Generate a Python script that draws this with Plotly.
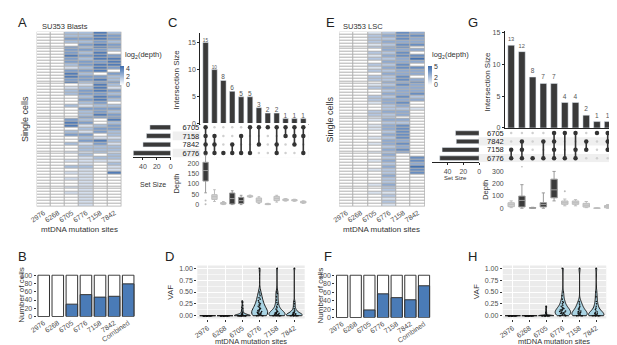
import plotly.graph_objects as go

# ---------------- DATA ----------------
sites6 = ["2976", "6268", "6705", "6776", "7158", "7842"]
sites7 = ["2976", "6268", "6705", "6776", "7158", "7842", "Combined"]
cell_rows = list(range(1, 61))

# Panel A: log2(depth) per cell (rows top->bottom), one list per site
A_2976 = [0]*60
A_6268 = [0]*60
A_6705 = [2,2,3,2,0,3,3,3,4,3, 3,2,1,3,4,4,3,4,0,1, 2,2,0,0,0,2,0,0,0,0,
          3,4,4,0,2,3,0,0,2,0, 0,1,0,0,1,0,2,0,1,0, 1,0,0,1,0,1,0,0,0,0]
A_6776 = [2,2,3,2,3,2,3,2,3,2, 3,3,2,3,2,3,3,2,1,2, 3,3,2,3,2,1,3,2,2,3,
          2,3,1,2,1,3,2,3,1,2, 2,1,2,1,1,1,2,1,1,1, 1,1,1,1,1,1,1,1,1,1]
A_7158 = [4,4,4,3,4,4,3,4,4,4, 3,4,4,4,0,3,4,3,4,4, 4,3,4,4,3,2,3,3,4,3,
          0,0,2,3,3,0,1,4,3,2, 2,2,0,2,1,0,0,0,0,0, 0,0,0,0,0,0,0,0,0,0]
A_7842 = [2,3,3,2,3,3,2,0,3,4, 4,4,3,0,3,2,2,3,2,1, 3,2,3,2,0,2,3,2,3,3,
          4,2,3,3,2,2,1,2,1,2, 2,1,2,2,1,2,1,1,4,0, 0,0,0,0,0,0,0,0,0,0]

# Panel E
E_2976 = [0]*60
E_6268 = [0]*60
E_6705 = [1,2,2,2,1,2,0,2,1,2, 0,2,1,2,0,2,2,0,1,2, 0,0,2,2,1,0,0,2,2,1,
          1,0,1,1,0,0,1,0,1,0, 0,1,0,0,1,0,0,1,0,0, 0,0,1,0,0,1,0,0,0,0]
E_6776 = [2,3,2,3,2,3,3,2,3,2, 3,2,3,2,3,2,2,3,2,3, 2,3,2,3,3,2,2,3,2,2,
          3,2,3,3,2,3,2,3,3,2, 3,2,3,2,3,2,3,2,2,3, 2,2,3,2,2,1,2,1,2,1]
E_7158 = [4,4,4,3,4,4,3,4,4,3, 3,4,4,3,3,4,4,3,4,3, 3,3,4,3,4,3,2,3,3,0,
          3,2,4,4,4,4,4,3,4,3, 4,3,0,0,0,0,0,0,0,0, 0,0,0,0,0,0,0,0,0,0]
E_7842 = [3,4,3,3,4,0,3,0,4,5, 3,0,4,3,3,0,3,4,3,3, 3,4,2,3,0,0,1,0,0,0,
          0,0,0,0,0,0,0,0,0,0, 0,0,0,4,4,3,5,4,4,0, 0,0,0,0,0,0,0,0,0,0]

# Panels B / F: number of cells carrying each mutation (out of 100)
cells_total = [100, 100, 100, 100, 100, 100, 100]
B_mut = [0, 0, 30, 53, 47, 49, 79]
F_mut = [0, 0, 18, 56, 47, 42, 75]

# Panel C (UpSet, Blasts)
C_sets = ["6705", "7158", "7842", "6776"]
C_setsize = [30, 35, 40, 54]
C_inter = [15, 10, 8, 6, 5, 5, 3, 2, 2, 1, 1, 1]
C_members = [[0,1,2,3],[1,2,3],[3],[2,3],[1,3],[0,3],[0,2],[0],[0,2,3],[0,1],[0,1,2],[0,1,3]]
C_q1 = [114, 25, 2, 3, 5, 37, 11, 0, 19, 19, 18, 8]
C_med = [165, 38, 6, 29, 19, 40, 21, 2, 30, 23, 21, 12]
C_q3 = [205, 48, 10, 56, 35, 43, 32, 4, 40, 27, 24, 16]
C_lo = [57, 15, 0, 0, 0, 35, 5, 0, 12, 17, 16, 6]
C_hi = [240, 72, 15, 67, 45, 46, 38, 6, 45, 29, 26, 18]
C_dark = [1, 0, 0, 1, 1, 0, 0, 0, 0, 0, 0, 0]
C_out_x = [0, 0]
C_out_y = [20, 2]

# Panel G (UpSet, LSC)
G_sets = ["6705", "7842", "7158", "6776"]
G_setsize = [30, 29, 47, 50]
G_inter = [13, 12, 8, 7, 7, 4, 4, 2, 1, 1]
G_members = [[2,3],[1,2,3],[3],[1,3],[0,1,2,3],[0,3],[0,2,3],[1,2],[0],[0,1,2]]
G_q1 = [13, 11, 1, 11, 85, 32, 32, 10, 0, 4]
G_med = [32, 64, 3, 30, 150, 45, 45, 25, 1, 12]
G_q3 = [45, 99, 5, 45, 237, 59, 59, 40, 2, 22]
G_lo = [5, 0, 0, 0, 60, 20, 20, 5, 0, 0]
G_hi = [60, 192, 8, 125, 300, 75, 70, 55, 3, 30]
G_dark = [0, 1, 1, 1, 1, 0, 0, 0, 0, 0]
G_out_x = [1, 5]
G_out_y = [339, 139]

# Panels D / H: VAF per cell
D_vaf = {
    "2976": [0,0,0,0,0,0,0,0,0,0,0,0,0,0,0,0,0,0,0,0,0,0,0,0,0,0,0,0,0,0],
    "6268": [0,0,0,0,0,0,0,0,0,0,0,0,0,0,0,0,0,0,0,0,0,0,0,0,0,0,0,0,0,0],
    "6705": [0,0,0,0,0,0,0,0,0,0,0,0,0,0,0,0,0,0,0,0,0.01,0.02,0.02,0.03,0.04,0.05,0.06,0.08,0.1,0.12,0.15,0.18,0.22,0.28,0.31],
    "6776": [0,0,0,0,0,0.01,0.02,0.02,0.03,0.04,0.05,0.05,0.06,0.07,0.08,0.09,0.1,0.11,0.12,0.13,0.15,0.16,0.18,0.2,0.21,0.23,0.25,0.27,0.29,0.32,0.35,0.38,0.42,0.46,0.5,1.0],
    "7158": [0,0,0,0,0,0,0,0,0.01,0.01,0.02,0.02,0.03,0.03,0.04,0.05,0.05,0.06,0.07,0.08,0.09,0.1,0.12,0.14,0.17,0.2,0.24,0.28,0.33,0.4,0.47,0.5,1.0],
    "7842": [0,0,0,0,0,0,0,0,0,0.01,0.01,0.02,0.02,0.03,0.03,0.04,0.05,0.06,0.07,0.08,0.1,0.12,0.15,0.2,0.25,0.3,1.0],
}
H_vaf = {
    "2976": [0,0,0,0,0,0,0,0,0,0,0,0,0,0,0,0,0,0,0,0,0,0,0,0,0,0,0,0,0,0],
    "6268": [0,0,0,0,0,0,0,0,0,0,0,0,0,0,0,0,0,0,0,0,0,0,0,0,0,0,0,0,0,0],
    "6705": [0,0,0,0,0,0,0,0,0,0,0,0,0,0,0,0,0,0,0,0.01,0.02,0.03,0.05,0.07,0.1,0.14,0.18,0.2],
    "6776": [0,0,0,0,0.01,0.02,0.03,0.04,0.05,0.05,0.06,0.07,0.08,0.09,0.1,0.1,0.11,0.12,0.13,0.14,0.15,0.16,0.18,0.2,0.22,0.25,0.28,0.3,0.35,0.42,0.5,1.0],
    "7158": [0,0,0,0,0,0,0.01,0.02,0.03,0.04,0.05,0.06,0.07,0.08,0.09,0.1,0.12,0.14,0.16,0.18,0.2,0.23,0.27,0.3,1.0],
    "7842": [0,0,0,0,0,0,0,0,0,0.01,0.02,0.03,0.04,0.05,0.06,0.08,0.1,0.13,0.16,0.2,0.25,0.3,0.4,0.5,1.0],
}

# ---------------- LAYOUT HELPERS ----------------
W, H = 617, 345
FONT = "Liberation Sans"
TXT = "#333333"
TICK = "#4d4d4d"
BLUE = "#4a7bb7"
CSCALE = [[0, "#ffffff"], [1, "#3c6cae"]]


def dxr(a, b):
    return [a / W, b / W]


def dyr(top, bottom):
    return [1 - bottom / H, 1 - top / H]


def px(a):
    return a / W


def py(b):
    return 1 - b / H


fig = go.Figure()
annotations = []
shapes = []


def note(text, x, y, size=8, angle=0, xanchor="center", yanchor="middle", color=TXT):
    annotations.append(dict(text=text, x=px(x), y=py(y), xref="paper", yref="paper",
                            showarrow=False, font=dict(size=size, color=color, family=FONT),
                            textangle=angle, xanchor=xanchor, yanchor=yanchor))


def heat_panel(cols, ax_id, xdom, ydom, zmax, ticks, cb_x):
    z = [list(r) for r in zip(*cols)]
    fig.add_trace(go.Heatmap(
        z=z, x=sites6, y=cell_rows, colorscale=CSCALE, zmin=0, zmax=zmax,
        xgap=1, ygap=1, xaxis="x" + ax_id, yaxis="y" + ax_id,
        colorbar=dict(x=px(cb_x), xanchor="left", y=py(56), yanchor="top",
                      len=19, lenmode="pixels", thickness=4, thicknessmode="pixels",
                      tickvals=ticks, ticks="", outlinewidth=0, xpad=0, ypad=0,
                      tickfont=dict(size=7, color=TXT, family=FONT))))
    fig.layout["xaxis" + ax_id] = dict(domain=dxr(*xdom), anchor="y" + ax_id, tickangle=-35,
                                       tickfont=dict(size=7, color=TICK), ticks="", showgrid=False,
                                       zeroline=False, showline=False)
    fig.layout["yaxis" + ax_id] = dict(domain=dyr(*ydom), anchor="x" + ax_id, autorange="reversed",
                                       showticklabels=False, ticks="", showgrid=False, zeroline=False)
    shapes.append(dict(type="rect", xref="x%s domain" % ax_id, yref="y%s domain" % ax_id,
                       x0=0, x1=1, y0=0, y1=1, fillcolor="#b0b0b0", line=dict(width=0), layer="below"))


def bar_panel(mut, ax_id, xdom, ydom):
    fig.add_trace(go.Bar(x=sites7, y=cells_total, marker=dict(color="white", line=dict(color="#333", width=1)),
                         width=0.82, xaxis="x" + ax_id, yaxis="y" + ax_id, showlegend=False))
    fig.add_trace(go.Bar(x=sites7, y=mut, marker=dict(color=BLUE, line=dict(color="#333", width=1)),
                         width=0.82, xaxis="x" + ax_id, yaxis="y" + ax_id, showlegend=False))
    fig.layout["xaxis" + ax_id] = dict(domain=dxr(*xdom), anchor="y" + ax_id, tickangle=-35,
                                       tickfont=dict(size=7, color=TICK), ticks="", showgrid=False,
                                       zeroline=False)
    fig.layout["yaxis" + ax_id] = dict(domain=dyr(*ydom), anchor="x" + ax_id, range=[0, 102],
                                       tickvals=[0, 20, 40, 60, 80, 100], ticks="outside", ticklen=2,
                                       tickcolor="#333", tickfont=dict(size=7, color=TICK),
                                       showgrid=False, zeroline=False)


def upset_panel(inter, members, sets, setsize, q1, med, q3, lo, hi, dark, out_x, out_y, ids, xdom,
                ydom_bar, ydom_mat, ydom_box, ss_xdom, bar_rng, bar_ticks, box_rng, box_ticks,
                ss_rng, shade_x0):
    i_bar, i_mat, i_ss, i_box = ids
    n = len(inter)
    cols = list(range(n))
    xr = [-0.6, n - 0.4]
    # intersection bars
    fig.add_trace(go.Bar(x=cols, y=inter, text=inter, textposition="outside", cliponaxis=False,
                         textfont=dict(size=6.5, color="#555555", family=FONT),
                         outsidetextfont=dict(size=6.5, color="#555555", family=FONT),
                         marker=dict(color="#3a3a3a"), width=0.62,
                         xaxis="x" + i_bar, yaxis="y" + i_bar, showlegend=False))
    fig.layout["xaxis" + i_bar] = dict(domain=dxr(*xdom), anchor="y" + i_bar, range=xr,
                                       showticklabels=False, ticks="", showgrid=False, zeroline=False,
                                       showline=True, linecolor="#222", linewidth=1)
    fig.layout["yaxis" + i_bar] = dict(domain=dyr(*ydom_bar), anchor="x" + i_bar, range=bar_rng,
                                       tickvals=bar_ticks, ticks="outside", ticklen=2, tickcolor="#222",
                                       tickfont=dict(size=7, color=TICK), showgrid=False, zeroline=False,
                                       showline=True, linecolor="#222", linewidth=1)
    # matrix
    nr = len(sets)
    for r in range(1, nr, 2):
        shapes.append(dict(type="rect", xref="paper", yref="y" + i_mat, x0=px(shade_x0), x1=px(xdom[1]),
                           y0=r - 0.5, y1=r + 0.5, fillcolor="#efefef", line=dict(width=0), layer="below"))
    bx, by = [], []
    for c in cols:
        for r in range(nr):
            bx.append(c)
            by.append(r)
    fig.add_trace(go.Scatter(x=bx, y=by, mode="markers", marker=dict(size=2.5, color="#d0d0d0"),
                             xaxis="x" + i_mat, yaxis="y" + i_mat, showlegend=False))
    lx, ly, mx, my = [], [], [], []
    for c, mem in enumerate(members):
        lx += [c, c, None]
        ly += [min(mem), max(mem), None]
        for r in mem:
            mx.append(c)
            my.append(r)
    fig.add_trace(go.Scatter(x=lx, y=ly, mode="lines", line=dict(color="#333", width=1.6),
                             xaxis="x" + i_mat, yaxis="y" + i_mat, showlegend=False))
    fig.add_trace(go.Scatter(x=mx, y=my, mode="markers", marker=dict(size=4.5, color="#333"),
                             xaxis="x" + i_mat, yaxis="y" + i_mat, showlegend=False))
    fig.layout["xaxis" + i_mat] = dict(domain=dxr(*xdom), anchor="y" + i_mat, range=xr, visible=False)
    fig.layout["yaxis" + i_mat] = dict(domain=dyr(*ydom_mat), anchor="x" + i_mat, range=[nr - 0.5, -0.5],
                                       tickvals=list(range(nr)), ticktext=sets, ticks="",
                                       tickfont=dict(size=7.5, color="#222"), showgrid=False,
                                       zeroline=False)
    # set size
    fig.add_trace(go.Bar(x=setsize, y=list(range(nr)), orientation="h", marker=dict(color="#3a3a3a"),
                         width=0.55, xaxis="x" + i_ss, yaxis="y" + i_ss, showlegend=False))
    fig.layout["xaxis" + i_ss] = dict(domain=dxr(*ss_xdom), anchor="y" + i_ss, range=ss_rng,
                                      tickvals=[0, 20, 40], ticks="outside", ticklen=2, tickcolor="#222",
                                      tickfont=dict(size=7, color=TICK), showgrid=False, zeroline=False,
                                      showline=True, linecolor="#222", linewidth=1)
    fig.layout["yaxis" + i_ss] = dict(domain=dyr(*ydom_mat), anchor="x" + i_ss, range=[nr - 0.5, -0.5],
                                      visible=False)
    # depth boxes
    for c in cols:
        fc = "#3a3a3a" if dark[c] else "#cfcfcf"
        lc = "#9a9a9a" if dark[c] else "#bdbdbd"
        fig.add_trace(go.Box(x=[c], q1=[q1[c]], median=[med[c]], q3=[q3[c]], lowerfence=[lo[c]],
                             upperfence=[hi[c]], fillcolor=fc, line=dict(color=lc, width=1), width=0.6,
                             xaxis="x" + i_box, yaxis="y" + i_box, showlegend=False))
    fig.add_trace(go.Scatter(x=out_x, y=out_y, mode="markers", marker=dict(size=2, color="#bbbbbb"),
                             xaxis="x" + i_box, yaxis="y" + i_box, showlegend=False))
    fig.layout["xaxis" + i_box] = dict(domain=dxr(*xdom), anchor="y" + i_box, range=xr, visible=False)
    fig.layout["yaxis" + i_box] = dict(domain=dyr(*ydom_box), anchor="x" + i_box, range=box_rng,
                                       tickvals=box_ticks, ticks="", tickfont=dict(size=7, color=TICK),
                                       showgrid=False, zeroline=False)


def violin_panel(vaf, ax_id, xdom, ydom):
    for s in sites6:
        fig.add_trace(go.Violin(x=[s] * len(vaf[s]), y=vaf[s], name=s, points="all", jitter=0.6,
                                pointpos=0, spanmode="hard", scalemode="width", width=0.92,
                                fillcolor="#a9d3e3", line=dict(color="#1a1a1a", width=1),
                                marker=dict(size=1.6, color="#111"), xaxis="x" + ax_id,
                                yaxis="y" + ax_id, showlegend=False, hoveron="points"))
    fig.layout["xaxis" + ax_id] = dict(domain=dxr(*xdom), anchor="y" + ax_id, tickangle=-35,
                                       categoryorder="array", categoryarray=sites6,
                                       tickfont=dict(size=7, color=TICK), ticks="outside", ticklen=2,
                                       tickcolor="#333", showgrid=True, gridcolor="white", gridwidth=1,
                                       zeroline=False, range=[-0.6, 5.6])
    fig.layout["yaxis" + ax_id] = dict(domain=dyr(*ydom), anchor="x" + ax_id, range=[-0.06, 1.06],
                                       tickvals=[0, 0.25, 0.5, 0.75, 1.0], tickformat=".2f",
                                       ticks="outside", ticklen=2, tickcolor="#333",
                                       tickfont=dict(size=7, color=TICK), showgrid=True, gridcolor="white",
                                       gridwidth=1, zeroline=False,
                                       minor=dict(showgrid=True, gridcolor="#f6f6f6", gridwidth=0.5,
                                                  tickvals=[0.125, 0.375, 0.625, 0.875]))
    shapes.append(dict(type="rect", xref="x%s domain" % ax_id, yref="y%s domain" % ax_id,
                       x0=0, x1=1, y0=0, y1=1, fillcolor="#ebebeb", line=dict(width=0), layer="below"))


# ---------------- PANELS ----------------
heat_panel([A_2976, A_6268, A_6705, A_6776, A_7158, A_7842], "", (22, 108), (21, 199), 4.5, [0, 2, 4], 107)
heat_panel([E_2976, E_6268, E_6705, E_6776, E_7158, E_7842], "8", (329, 416), (21, 199), 5.2, [0, 2, 5], 419)

bar_panel(B_mut, "2", (22, 122), (268, 311))
bar_panel(F_mut, "9", (325, 422), (268, 312))

upset_panel(C_inter, C_members, C_sets, C_setsize, C_q1, C_med, C_q3, C_lo, C_hi, C_dark, C_out_x, C_out_y,
            ("3", "4", "5", "6"), (188, 298), (22, 115), (114, 149), (146, 199), (120, 158),
            [0, 16.8], [0, 5, 10, 15], [-9.5, 243], [0, 50, 100, 150, 200], [54, 0], 160)
upset_panel(G_inter, G_members, G_sets, G_setsize, G_q1, G_med, G_q3, G_lo, G_hi, G_dark, G_out_x, G_out_y,
            ("10", "11", "12", "13"), (497, 608), (20, 119), (120, 154), (158, 202), (423, 471),
            [0, 15.3], [0, 5, 10, 15], [-10, 342], [0, 100, 200, 300], [60, 0], 470)

violin_panel(D_vaf, "7", (185, 294), (259, 313))
violin_panel(H_vaf, "14", (495, 600), (259, 313))

# ---------------- TEXT ----------------
for lab, x, y in [("A", 8, 12), ("B", 8, 250), ("C", 160, 12), ("D", 157, 250),
                  ("E", 320, 12), ("F", 318, 250), ("G", 465, 12), ("H", 464, 250)]:
    note(lab, x, y, size=13, color="#222")

note("SU353 Blasts", 25, 16, size=7.5, xanchor="left")
note("SU353 LSC", 331, 16, size=7.5, xanchor="left")
note("log<sub>2</sub>(depth)", 110, 45, size=7.5, xanchor="left")
note("log<sub>2</sub>(depth)", 421, 45, size=7.5, xanchor="left")
note("Single cells", 10, 110, size=9, angle=-90)
note("Single cells", 320, 110, size=9, angle=-90)
note("mtDNA mutation sites", 65, 222, size=8)
note("mtDNA mutation sites", 372, 222, size=8)
note("Number of cells", 7, 289, size=8, angle=-90)
note("Number of cells", 311, 289, size=8, angle=-90)
note("Intersection Size", 164, 70, size=8, angle=-90)
note("Intersection Size", 480, 72, size=8, angle=-90)
note("Set Size", 140, 177, size=7)
note("Set Size", 447, 170, size=6)
note("Depth", 164, 176, size=7.5, angle=-90)
note("Depth", 478, 182, size=7.5, angle=-90)
note("VAF", 157, 286, size=8, angle=-90)
note("VAF", 468, 286, size=8, angle=-90)
note("mtDNA mutation sites", 239, 336, size=7.5)
note("mtDNA mutation sites", 547, 336, size=7.5)

fig.update_layout(width=W, height=H, margin=dict(l=0, r=0, t=0, b=0), paper_bgcolor="white",
                  plot_bgcolor="white", font=dict(family=FONT, size=7, color=TXT),
                  annotations=annotations, shapes=shapes, barmode="overlay", showlegend=False,
                  violinmode="overlay", boxmode="overlay")

fig.write_html("out.html")
